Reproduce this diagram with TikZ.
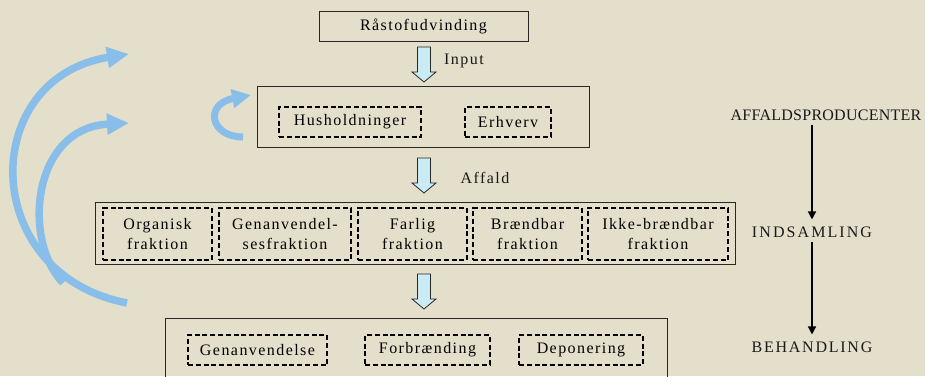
\documentclass[tikz,border=0pt]{standalone}
\usepackage{fontspec}
\setmainfont{Liberation Serif}[LetterSpace=9]
\usetikzlibrary{arrows.meta}
\definecolor{bgc}{RGB}{227,223,203}
\definecolor{curvc}{RGB}{138,190,234}
\definecolor{blkc}{RGB}{202,234,244}
\definecolor{edgec}{RGB}{40,40,40}
\tikzset{
  outerbox/.style={draw=edgec, line width=0.9pt, inner sep=0pt, align=center},
  dashbox/.style={draw=black, line width=1.7pt, dash pattern=on 5pt off 2.8pt, inner sep=0pt, align=center, minimum height=30pt},
  fracbox/.style={dashbox, minimum height=52pt},
  lbl/.style={inner sep=0pt, text=black!90},
  blockarrow/.style={draw=edgec, line width=0.8pt, fill=blkc},
  recyc/.style={draw=curvc, line width=7.5pt, -{Triangle[length=22pt,width=20pt]}},
  flowarr/.style={draw=black, line width=1.4pt, -{Triangle[length=8pt,width=8pt]}}
}
\newcommand\blockarr[3]{%
  \draw[blockarrow] (#1-6.5,#2) -- (#1+6.5,#2) -- (#1+6.5,#3-10) -- (#1+12,#3-10) -- (#1,#3) -- (#1-12,#3-10) -- (#1-6.5,#3-10) -- cycle;}
\begin{document}
\begin{tikzpicture}[x=1pt,y=-1pt, font=\fontsize{16}{20}\selectfont]
\useasboundingbox (0,0) rectangle (925,376);
\fill[bgc] (0,0) rectangle (925,376);

% top
\node[outerbox, minimum width=209pt, minimum height=30pt] (raa) at (423.5,26) {Råstofudvinding};
\blockarr{424}{47}{82}
\node[lbl] (input) at (464,61) {Input};

% producers
\node[outerbox, minimum width=332pt, minimum height=61pt] (prod) at (423,116.5) {};
\node[dashbox, minimum width=142pt] (hus) at (350,122) {Husholdninger};
\node[dashbox, minimum width=86pt] (erh) at (508,122) {Erhverv};
\blockarr{424}{158}{193}
\node[lbl] (affald) at (485,178) {Affald};

% fractions
\node[outerbox, minimum width=640pt, minimum height=62pt] (frac) at (415,233) {};
\node[fracbox, minimum width=109pt] (org) at (157.5,234) {Organisk\\fraktion};
\node[fracbox, minimum width=132pt] (gen) at (285,234) {Genanvendel-\\sesfraktion};
\node[fracbox, minimum width=109pt] (far) at (412.5,234) {Farlig\\fraktion};
\node[fracbox, minimum width=109pt] (brae) at (527.5,234) {Brændbar\\fraktion};
\node[fracbox, minimum width=140pt] (ikke) at (658,234) {Ikke-brændbar\\fraktion};
\blockarr{424}{274}{309}

% treatment
\draw[edgec, line width=0.9pt] (165,390) -- (165,318) coordinate (trtl) -- (667,318) coordinate (trtr) -- (667,390);
\node[dashbox, minimum width=139pt] (genb) at (257.5,350) {Genanvendelse};
\node[dashbox, minimum width=125pt] (forb) at (427.5,350) {Forbrænding};
\node[dashbox, minimum width=124pt] (depo) at (581,350) {Deponering};

% recycling arrows
\coordinate (o1) at (127,303);
\coordinate (o2) at (129,54);
\coordinate (i1) at (63,283);
\coordinate (i2) at (129,123);
\coordinate (s1) at (243,137);
\coordinate (s2) at (251,95);
\draw[recyc] (o1) .. controls (-22,274) and (-22,78) .. (o2);
\draw[recyc] (i1) .. controls (22,240) and (32,128) .. (i2);
\draw[draw=curvc, line width=7pt, -{Triangle[length=19pt,width=18pt]}] (s1) .. controls (210,137) and (204,104) .. (s2);

% right side
\node[lbl, font=\fontsize{16}{18}\selectfont\addfontfeatures{LetterSpace=1.6}] (ap) at (826,115) {AFFALDSPRODUCENTER};
\node[lbl, font=\fontsize{16}{18}\selectfont\addfontfeatures{LetterSpace=13}] (ind) at (812,232) {INDSAMLING};
\node[lbl, font=\fontsize{16}{18}\selectfont\addfontfeatures{LetterSpace=11}] (beh) at (812,347) {BEHANDLING};
\draw[flowarr] ([yshift=-4pt]ind.north |- ap.south) -- ([yshift=7pt]ind.north);
\draw[flowarr] ([yshift=-4pt]ind.south) -- ([yshift=7pt]beh.north);
\end{tikzpicture}
\end{document}
